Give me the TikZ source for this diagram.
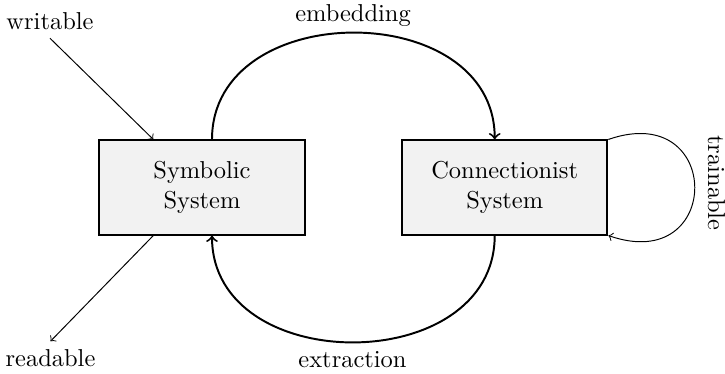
\documentclass[tikz,border=0pt]{standalone}
\usetikzlibrary{calc}
\begin{document}
\begin{tikzpicture}[x=0.409pt,y=0.409pt,
  sysbox/.style={draw,thick,fill=gray!10,align=center,minimum width=84pt,minimum height=38.5pt},
  bigarc/.style={thick,->},
  smallarrow/.style={->}]
\useasboundingbox (0,0) rectangle (725,374);
\node[sysbox] (sym) at (202,186.5) {Symbolic\\System};
\node[sysbox] (con) at (504.7,186.5) {Connectionist\\System};
\node (writable) at (50,353) {writable};
\node (readable) at (50.5,15.5) {readable};
\node (emb) at (353,358) {embedding};
\node (ext) at (352.5,14.5) {extraction};
\node[rotate=-90] (train) at (716.5,191) {trainable};
\coordinate (wtip) at ($(sym.north west)+(55,0)$);
\coordinate (rstart) at ($(sym.south west)+(55,0)$);
\draw[smallarrow] (writable.south) -- (wtip);
\draw[smallarrow] (rstart) -- (readable.north);
\draw[bigarc] ($(sym.north)+(10,0)$) to[out=90,in=90,looseness=1.29] ($(con.north)+(-10,0)$);
\draw[bigarc] ($(con.south)+(-10,0)$) to[out=-90,in=-90,looseness=1.29] ($(sym.south)+(10,0)$);
\draw[smallarrow] (con.north east) .. controls +(115,40) and +(115,-40) .. (con.south east);
\end{tikzpicture}
\end{document}
